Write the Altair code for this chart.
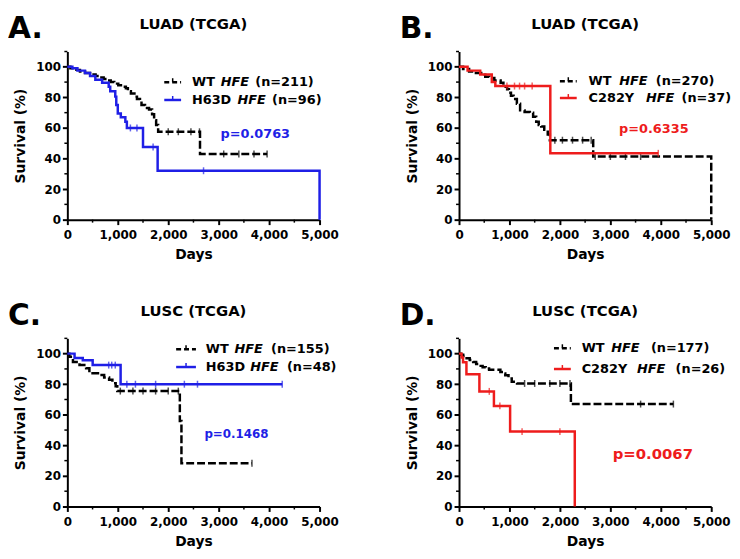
import altair as alt
import pandas as pd

FONT = "DejaVu Sans"
BLACK = "#000000"
BLUE = "#1f1fe6"
RED = "#ee1c1c"
W, H = 255, 170

x_ticks = [0, 1000, 2000, 3000, 4000, 5000]
x_minor = [500, 1500, 2500, 3500, 4500]
y_ticks = [0, 20, 40, 60, 80, 100]
y_minor = [10, 30, 50, 70, 90, 110]

# ---------------- Panel A: LUAD, WT vs H63D ----------------
a_wt_days = [0, 60, 150, 250, 350, 450, 560, 640, 720, 800, 860, 930, 1010, 1100,
             1160, 1200, 1260, 1330, 1380, 1440, 1470, 1540, 1620, 1680, 1720,
             1760, 1800, 2630, 3960]
a_wt_surv = [100, 99, 98, 97, 96, 95, 94, 93, 92, 91, 90, 89, 88, 87,
             86, 84, 82.5, 80.5, 79, 78, 75, 73, 72, 69, 65,
             62, 57.5, 43, 43]
a_wt_cens_days = [2000, 2200, 2450, 2620, 3100, 3400, 3700, 3960]
a_wt_cens_surv = [57.5, 57.5, 57.5, 57.5, 43, 43, 43, 43]
a_mut_days = [0, 100, 200, 350, 450, 555, 690, 820, 850, 950, 970, 1000,
              1060, 1150, 1180, 1500, 1790, 5000]
a_mut_surv = [100, 99, 97.5, 96, 94, 91.5, 89.5, 87, 84, 80.5, 75, 69.5,
              67, 64, 60, 47.5, 32, 0]
a_mut_cens_days = [1250, 1380, 1700, 2700]
a_mut_cens_surv = [60, 60, 47.5, 32]

# ---------------- Panel B: LUAD, WT vs C282Y ----------------
b_wt_days = [0, 80, 200, 300, 440, 520, 600, 700, 825, 880, 954, 990, 1030,
             1082, 1147, 1211, 1300, 1405, 1469, 1530, 1580, 1630, 1690, 1759,
             1800, 2660, 5000]
b_wt_surv = [100, 98.5, 97, 96, 94.8, 93.5, 92.7, 91, 89.5, 87, 85.3, 83, 81,
             79, 75.8, 71.5, 70.5, 70, 67.3, 64, 62, 61, 58.8, 55.7,
             52, 41.3, 0]
b_wt_cens_days = [1900, 2050, 2250, 2450, 2620, 2700, 3000, 3300, 3600]
b_wt_cens_surv = [52, 52, 52, 52, 52, 41.3, 41.3, 41.3, 41.3]
b_mut_days = [0, 170, 420, 650, 720, 1810, 3950]
b_mut_surv = [100, 97.5, 95, 90, 87.4, 43.4, 43.4]
b_mut_cens_days = [950, 1100, 1200, 1300, 1450, 3950]
b_mut_cens_surv = [87.4, 87.4, 87.4, 87.4, 87.4, 43.4]

# ---------------- Panel C: LUSC, WT vs H63D ----------------
c_wt_days = [0, 40, 111, 241, 372, 437, 632, 730, 828, 893, 958, 990,
             2230, 2262, 3660]
c_wt_surv = [100, 97.9, 94.6, 92.5, 90.4, 87.2, 86, 84.4, 82.9, 80.7, 78.6, 75.5,
             56, 28.3, 28.3]
c_wt_cens_days = [1050, 1300, 1500, 1750, 2000, 2200, 3660]
c_wt_cens_surv = [75.5, 75.5, 75.5, 75.5, 75.5, 75.5, 28.3]
c_mut_days = [0, 143, 306, 502, 1056, 4260]
c_mut_surv = [100, 97.2, 95.7, 92.5, 80, 80]
c_mut_cens_days = [820, 880, 950, 1180, 1350, 1750, 2320, 2580, 4260]
c_mut_cens_surv = [92.5, 92.5, 92.5, 80, 80, 80, 80, 80, 80]

# ---------------- Panel D: LUSC, WT vs C282Y ----------------
d_wt_days = [0, 40, 83, 150, 212, 280, 340, 400, 468, 530, 596, 820, 880, 917,
             981, 1045, 1150, 2218, 4250]
d_wt_surv = [100, 99.3, 98.5, 97, 95.8, 94.5, 93.2, 92, 91.1, 90.3, 89.5, 88, 87,
             85.9, 83.8, 81.6, 80.5, 67, 67]
d_wt_cens_days = [1300, 1500, 1800, 2000, 2200, 3600, 4250]
d_wt_cens_surv = [80.5, 80.5, 80.5, 80.5, 80.5, 67, 67]
d_mut_days = [0, 51, 80, 147, 404, 692, 1013, 2295]
d_mut_surv = [100, 97.5, 94.3, 86.5, 75.3, 65.8, 49, 0]
d_mut_cens_days = [600, 810, 1250, 2000]
d_mut_cens_surv = [75.3, 65.8, 49, 49]

X = alt.X("day:Q", scale=alt.Scale(domain=[0, 5000], nice=False, zero=True),
          axis=alt.Axis(values=x_ticks, format=",.0f", title="Days",
                        labelFlush=False, labelOverlap=False))
Y = alt.Y("surv:Q", scale=alt.Scale(domain=[0, 110], nice=False, zero=True),
          axis=alt.Axis(values=y_ticks, format=".0f", title="Survival (%)", labelOverlap=False))


def df(days, surv):
    return pd.DataFrame({"day": days, "surv": surv, "i": list(range(len(days)))})


def text_layer(txt, x, y, size=13, color=BLACK, italic=False, align="left", weight="bold"):
    return alt.Chart(pd.DataFrame({"k": [0]})).mark_text(
        text=txt, font=FONT, fontSize=size, fontWeight=weight,
        fontStyle="italic" if italic else "normal", color=color,
        align=align, baseline="middle").encode(x=alt.value(x), y=alt.value(y))


def legend_row(y, x0, x1, color, dashed, words):
    base = alt.Chart(pd.DataFrame({"k": [0]}))
    if dashed:
        line = base.mark_rule(color=color, strokeWidth=2.5, strokeDash=[5, 3])
    else:
        line = base.mark_rule(color=color, strokeWidth=2.5)
    layers = [
        line.encode(x=alt.value(x0), x2=alt.value(x1), y=alt.value(y)),
        base.mark_rule(color=color, strokeWidth=1.5).encode(
            x=alt.value((x0 + x1) / 2), y=alt.value(y - 4), y2=alt.value(y)),
    ]
    for txt, x, it in words:
        layers.append(text_layer(txt, x, y, italic=it))
    return layers


def panel(letter, title, wt, wt_c, mut, mut_c, color, leg, pval, psize):
    layers = []
    # minor ticks
    layers.append(alt.Chart(pd.DataFrame({"day": x_minor})).mark_rule(
        color=BLACK, strokeWidth=1.5).encode(x=X, y=alt.value(H), y2=alt.value(H + 3)))
    layers.append(alt.Chart(pd.DataFrame({"surv": y_minor})).mark_rule(
        color=BLACK, strokeWidth=1.5).encode(y=Y, x=alt.value(0), x2=alt.value(-3)))
    # curves
    layers.append(alt.Chart(df(*wt)).mark_line(
        interpolate="step-after", color=BLACK, strokeWidth=2.5, strokeDash=[8, 3]
    ).encode(x=X, y=Y, order="i:Q"))
    layers.append(alt.Chart(df(*wt_c)).mark_tick(
        orient="vertical", color=BLACK, size=7, thickness=1.5).encode(x=X, y=Y))
    layers.append(alt.Chart(df(*mut)).mark_line(
        interpolate="step-after", color=color, strokeWidth=2.5
    ).encode(x=X, y=Y, order="i:Q"))
    layers.append(alt.Chart(df(*mut_c)).mark_tick(
        orient="vertical", color=color, size=7, thickness=1.5).encode(x=X, y=Y))
    # legend
    (y1, y2, lx0, lx1, row1, row2) = leg
    layers += legend_row(y1, lx0, lx1, BLACK, True, row1)
    layers += legend_row(y2, lx0, lx1, color, False, row2)
    # p value
    layers.append(text_layer(pval[0], pval[1], pval[2], size=psize, color=color, align="center"))
    # title & panel letter
    layers.append(text_layer(title, W / 2, -28, size=15, align="center"))
    layers.append(alt.Chart(pd.DataFrame({"k": [0]})).mark_text(
        text=letter, font=FONT, fontSize=30, fontWeight="bold", color=BLACK,
        align="left", baseline="alphabetic").encode(x=alt.value(-60), y=alt.value(-14)))
    return alt.layer(*layers).properties(width=W, height=H)


pA = panel("A.", "LUAD (TCGA)",
           (a_wt_days, a_wt_surv), (a_wt_cens_days, a_wt_cens_surv),
           (a_mut_days, a_mut_surv), (a_mut_cens_days, a_mut_cens_surv), BLUE,
           (31, 49, 98, 115,
            [("WT", 126, False), ("HFE", 155, True), ("(n=211)", 190, False)],
            [("H63D", 126, False), ("HFE", 172, True), ("(n=96)", 207, False)]),
           ("p=0.0763", 190, 83), 13)
pB = panel("B.", "LUAD (TCGA)",
           (b_wt_days, b_wt_surv), (b_wt_cens_days, b_wt_cens_surv),
           (b_mut_days, b_mut_surv), (b_mut_cens_days, b_mut_cens_surv), RED,
           (30, 47, 102, 119,
            [("WT", 131, False), ("HFE", 162, True), ("(n=270)", 199, False)],
            [("C282Y", 131, False), ("HFE", 189, True), ("(n=37)", 225, False)]),
           ("p=0.6335", 197, 78), 13)
pC = panel("C.", "LUSC (TCGA)",
           (c_wt_days, c_wt_surv), (c_wt_cens_days, c_wt_cens_surv),
           (c_mut_days, c_mut_surv), (c_mut_cens_days, c_mut_cens_surv), BLUE,
           (11, 29, 110, 130,
            [("WT", 140, False), ("HFE", 169, True), ("(n=155)", 206, False)],
            [("H63D", 140, False), ("HFE", 185, True), ("(n=48)", 222, False)]),
           ("p=0.1468", 171, 97), 12)
pD = panel("D.", "LUSC (TCGA)",
           (d_wt_days, d_wt_surv), (d_wt_cens_days, d_wt_cens_surv),
           (d_mut_days, d_mut_surv), (d_mut_cens_days, d_mut_cens_surv), RED,
           (10, 31, 96, 113,
            [("WT", 124, False), ("HFE", 154, True), ("(n=177)", 194, False)],
            [("C282Y", 124, False), ("HFE", 180, True), ("(n=26)", 219, False)]),
           ("p=0.0067", 196, 117), 15)

chart = alt.concat(pA, pB, pC, pD, columns=2, spacing=alt.RowColnumber(row=40, column=62)).properties(
    padding={"top": 3, "left": 0, "right": 0, "bottom": 0}, background="white"
).configure_view(stroke=None).configure_axis(
    domainColor=BLACK, domainWidth=2, tickColor=BLACK, tickWidth=2, tickSize=5,
    labelFont=FONT, labelFontSize=12, labelFontWeight="bold", labelColor=BLACK,
    titleFont=FONT, titleFontSize=14, titleFontWeight="bold", titleColor=BLACK,
    grid=False
).configure_axisX(labelPadding=5, titlePadding=7).configure_axisY(labelPadding=2, titlePadding=8)

chart.save("out.html", embed_options={"renderer": "svg", "actions": False})
